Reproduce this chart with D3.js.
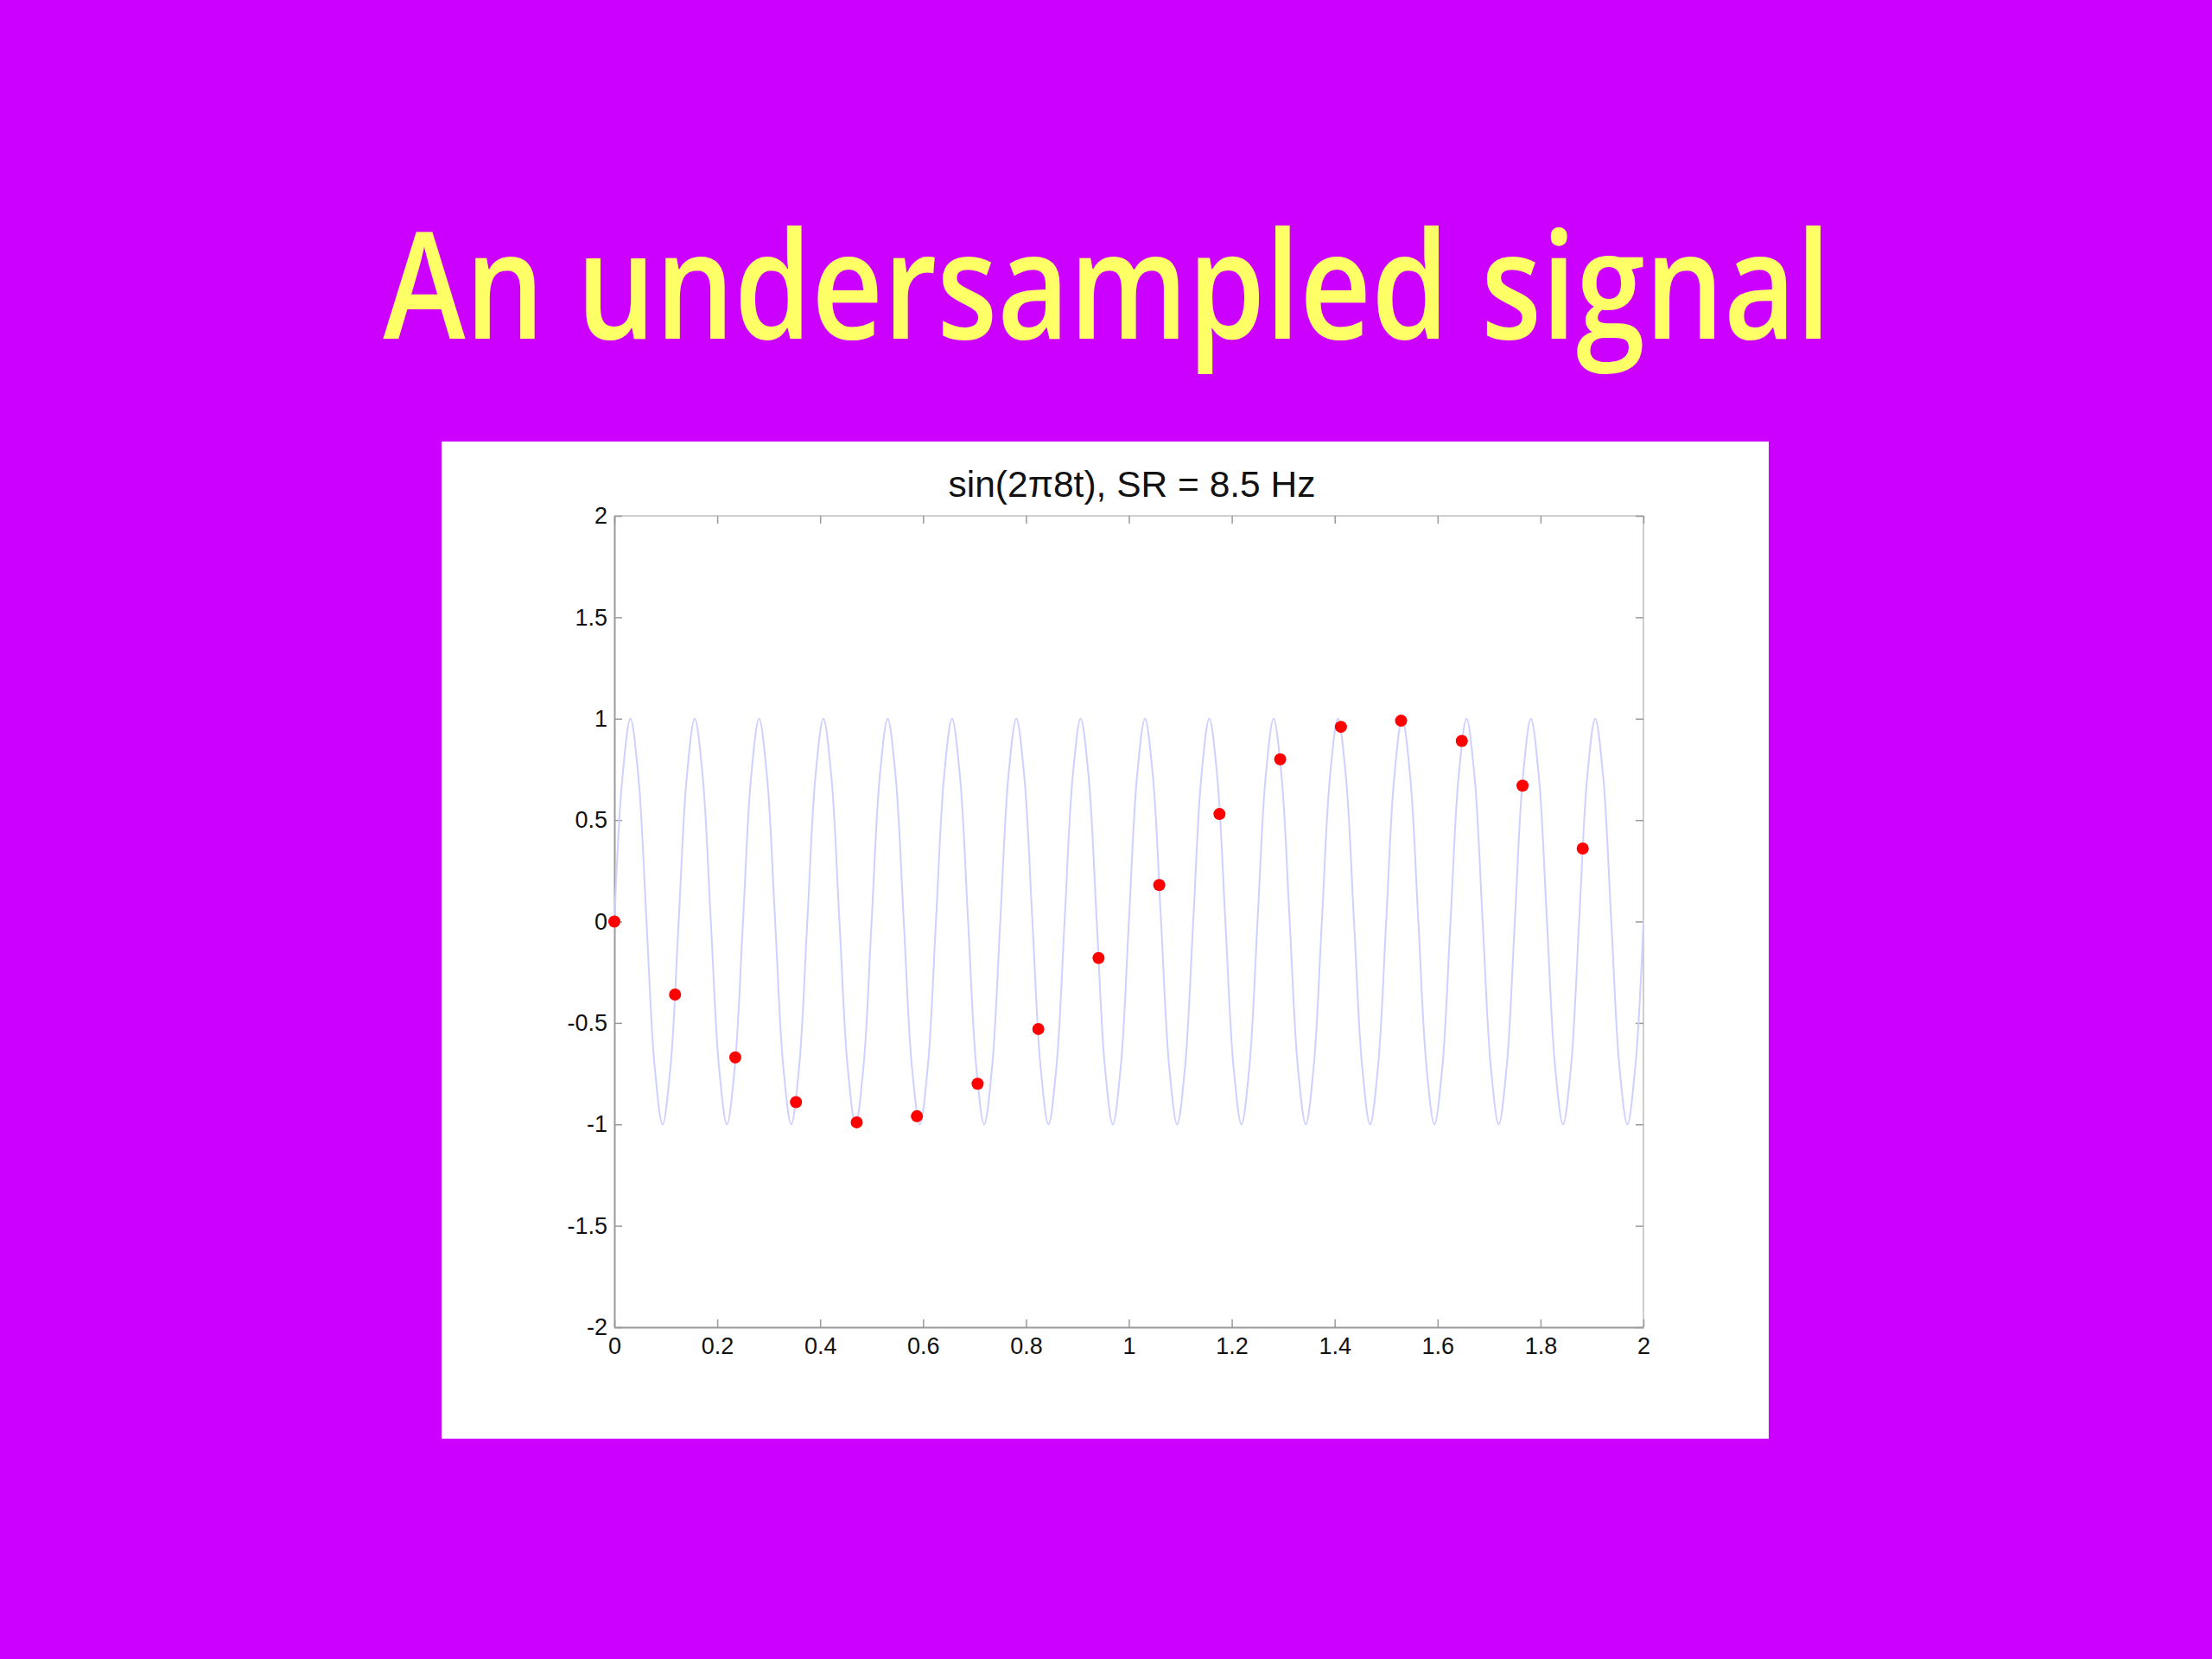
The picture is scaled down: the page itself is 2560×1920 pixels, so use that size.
<!DOCTYPE html>
<html>
<head>
<meta charset="utf-8">
<script src="https://cdn.jsdelivr.net/npm/d3@7"></script>
<style>
  html, body { margin: 0; padding: 0; background: #CC00FF; }
  svg { display: block; }
</style>
</head>
<body>
<svg id="chart" width="2560" height="1920"></svg>
<script>
// ---- data ----
const slideTitle = "An undersampled signal";
const chartTitle = "sin(2\u03c08t), SR = 8.5 Hz";

// continuous signal, read at 8 points per cycle (16 cycles over 0..2 s)
const curveStep = 0.015625;
const curveValues = [
  0, .71, 1, .71, 0, -.71, -1, -.71,
  0, .71, 1, .71, 0, -.71, -1, -.71,
  0, .71, 1, .71, 0, -.71, -1, -.71,
  0, .71, 1, .71, 0, -.71, -1, -.71,
  0, .71, 1, .71, 0, -.71, -1, -.71,
  0, .71, 1, .71, 0, -.71, -1, -.71,
  0, .71, 1, .71, 0, -.71, -1, -.71,
  0, .71, 1, .71, 0, -.71, -1, -.71,
  0, .71, 1, .71, 0, -.71, -1, -.71,
  0, .71, 1, .71, 0, -.71, -1, -.71,
  0, .71, 1, .71, 0, -.71, -1, -.71,
  0, .71, 1, .71, 0, -.71, -1, -.71,
  0, .71, 1, .71, 0, -.71, -1, -.71,
  0, .71, 1, .71, 0, -.71, -1, -.71,
  0, .71, 1, .71, 0, -.71, -1, -.71,
  0, .71, 1, .71, 0, -.71, -1, -.71,
  0
];

// samples taken at 8.5 Hz
const sampleTimes = [0, 0.118, 0.235, 0.353, 0.471, 0.588, 0.706, 0.824, 0.941,
                     1.059, 1.176, 1.294, 1.412, 1.529, 1.647, 1.765, 1.882];
const sampleValues = [0, -0.36, -0.67, -0.89, -0.99, -0.96, -0.80, -0.53, -0.18,
                      0.18, 0.53, 0.80, 0.96, 0.99, 0.89, 0.67, 0.36];

const xTicks = [0, 0.2, 0.4, 0.6, 0.8, 1, 1.2, 1.4, 1.6, 1.8, 2];
const xTickLabels = ["0", "0.2", "0.4", "0.6", "0.8", "1", "1.2", "1.4", "1.6", "1.8", "2"];
const yTicks = [-2, -1.5, -1, -0.5, 0, 0.5, 1, 1.5, 2];
const yTickLabels = ["-2", "-1.5", "-1", "-0.5", "0", "0.5", "1", "1.5", "2"];

// ---- layout ----
const svg = d3.select("#chart");
const panel = { x: 511, y: 511, w: 1536, h: 1154 };
const plot = { left: 711, right: 1902, top: 597, bottom: 1536 };

svg.append("rect").attr("width", 2560).attr("height", 1920).attr("fill", "#CC00FF");

svg.append("text")
  .attr("x", 1281).attr("y", 392)
  .attr("text-anchor", "middle")
  .attr("font-family", "'Comic Sans MS', 'Open Sans', sans-serif")
  .attr("font-weight", 600)
  .attr("font-size", 172)
  .attr("fill", "#FFFF66")
  .attr("textLength", 1675)
  .attr("lengthAdjust", "spacingAndGlyphs")
  .text(slideTitle);

svg.append("rect")
  .attr("x", panel.x).attr("y", panel.y)
  .attr("width", panel.w).attr("height", panel.h)
  .attr("fill", "#FFFFFF");

const x = d3.scaleLinear().domain([0, 2]).range([plot.left, plot.right]);
const y = d3.scaleLinear().domain([-2, 2]).range([plot.bottom, plot.top]);

const font = "'Liberation Sans', Arial, Helvetica, sans-serif";

// frame (top/right lighter)
svg.append("line").attr("x1", plot.left).attr("x2", plot.right).attr("y1", plot.top).attr("y2", plot.top)
  .attr("stroke", "#cfcfcf").attr("stroke-width", 2);
svg.append("line").attr("x1", plot.right).attr("x2", plot.right).attr("y1", plot.top).attr("y2", plot.bottom)
  .attr("stroke", "#cfcfcf").attr("stroke-width", 2);

// axes via d3 axis generators
const axisStyle = g => {
  g.select(".domain").attr("stroke", "#9a9a9a").attr("stroke-width", 2);
  g.selectAll(".tick line").attr("stroke", "#9a9a9a").attr("stroke-width", 1.5);
  g.selectAll(".tick text").attr("fill", "#111").attr("font-family", font).attr("font-size", 27);
};

const xAxis = d3.axisBottom(x).tickValues(xTicks)
  .tickFormat((d, i) => xTickLabels[i]).tickSizeInner(-9).tickSizeOuter(0).tickPadding(12);
svg.append("g").attr("transform", `translate(0,${plot.bottom})`).call(xAxis).call(axisStyle);

const yAxis = d3.axisLeft(y).tickValues(yTicks)
  .tickFormat((d, i) => yTickLabels[i]).tickSizeInner(-9).tickSizeOuter(0).tickPadding(8);
svg.append("g").attr("transform", `translate(${plot.left},0)`).call(yAxis).call(axisStyle);

// top and right ticks (no labels)
const xTop = d3.axisTop(x).tickValues(xTicks).tickFormat("").tickSizeInner(-9).tickSizeOuter(0);
svg.append("g").attr("transform", `translate(0,${plot.top})`).call(xTop)
  .call(g => { g.select(".domain").remove(); g.selectAll(".tick line").attr("stroke", "#9a9a9a").attr("stroke-width", 1.5); });
const yRight = d3.axisRight(y).tickValues(yTicks).tickFormat("").tickSizeInner(-9).tickSizeOuter(0);
svg.append("g").attr("transform", `translate(${plot.right},0)`).call(yRight)
  .call(g => { g.select(".domain").remove(); g.selectAll(".tick line").attr("stroke", "#9a9a9a").attr("stroke-width", 1.5); });

// chart title
svg.append("text")
  .attr("x", 1310).attr("y", 575)
  .attr("text-anchor", "middle")
  .attr("font-family", font)
  .attr("font-size", 42.5)
  .attr("fill", "#111")
  .text(chartTitle);

// continuous signal
const line = d3.line()
  .x((d, i) => x(i * curveStep))
  .y(d => y(d))
  .curve(d3.curveCatmullRom);
svg.append("path")
  .datum(curveValues)
  .attr("d", line)
  .attr("fill", "none")
  .attr("stroke", "#d0d0ff")
  .attr("stroke-width", 2);

// samples
svg.selectAll("circle.sample")
  .data(sampleValues)
  .enter().append("circle")
  .attr("class", "sample")
  .attr("cx", (d, i) => x(sampleTimes[i]))
  .attr("cy", d => y(d))
  .attr("r", 7)
  .attr("fill", "#FF0000");
</script>
</body>
</html>
